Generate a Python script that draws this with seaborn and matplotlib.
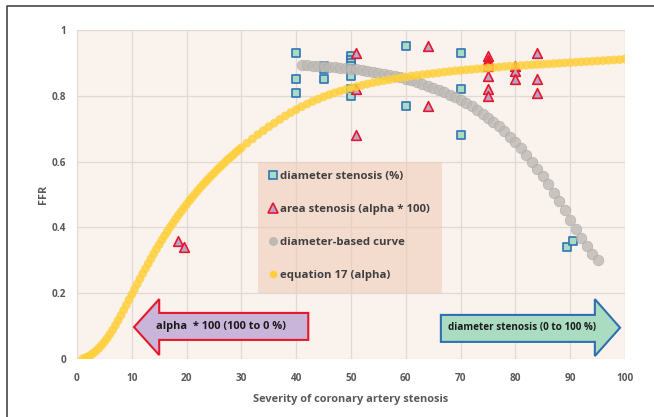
import matplotlib
matplotlib.use("Agg")
import matplotlib.pyplot as plt
from matplotlib.patches import Polygon, Rectangle
from matplotlib.lines import Line2D
import seaborn as sns
import pandas as pd

# --- data -----------------------------------------------------------------
diam_x = [40, 40, 40, 45, 45, 45, 50, 50, 50, 50, 50, 50, 50, 50,
          60, 60, 70, 70, 70, 89.5, 90.5]
diam_y = [0.93, 0.85, 0.81, 0.89, 0.88, 0.85, 0.92, 0.91, 0.90, 0.89,
          0.88, 0.86, 0.82, 0.80, 0.95, 0.77, 0.93, 0.82, 0.68, 0.34, 0.36]

area_x = [18.5, 19.6, 51, 51, 51, 64, 64, 75, 75, 75, 75, 75, 75, 75,
          80, 80, 80, 84, 84, 84]
area_y = [0.36, 0.34, 0.93, 0.82, 0.68, 0.95, 0.77, 0.92, 0.91, 0.90,
          0.89, 0.86, 0.82, 0.80, 0.89, 0.875, 0.85, 0.93, 0.85, 0.81]

curve_x = list(range(41, 96))
curve_y = [0.893, 0.893, 0.892, 0.891, 0.890, 0.889, 0.887, 0.886, 0.884,
           0.882, 0.880, 0.878, 0.876, 0.873, 0.870, 0.867, 0.864, 0.860,
           0.856, 0.852, 0.847, 0.842, 0.837, 0.831, 0.825, 0.818, 0.811,
           0.803, 0.795, 0.787, 0.778, 0.768, 0.757, 0.746, 0.734, 0.721,
           0.707, 0.692, 0.676, 0.659, 0.641, 0.621, 0.600, 0.578, 0.555,
           0.531, 0.506, 0.480, 0.452, 0.424, 0.395, 0.367, 0.343, 0.320,
           0.300]

eq_x = [1.0, 1.5, 2.0, 2.5, 3.0, 3.5, 4.0, 4.5, 5.0, 5.5, 6.0, 6.5, 7.0,
        7.5, 8.0, 8.5, 9.0, 9.5, 10.0, 10.5, 11.0, 11.5, 12.0, 12.5, 13.0,
        13.5, 14.0, 14.5, 15.0, 15.5, 16.0, 16.5, 17.0, 17.5, 18.0, 18.5,
        19.0, 19.5, 20.0, 20.5, 21.0, 21.5, 22.0, 22.5, 23.0, 23.5, 24.0,
        24.5, 25.0, 25.5, 26.0, 26.5, 27.0, 27.5, 28.0, 28.5, 29.0, 29.5,
        30, 31, 32, 33, 34, 35, 36, 37, 38, 39, 40, 41, 42, 43, 44, 45, 46,
        47, 48, 49, 50, 51, 52, 53, 54, 55, 56, 57, 58, 59, 60, 61, 62, 63,
        64, 65, 66, 67, 68, 69, 70, 71, 72, 73, 74, 75, 76, 77, 78, 79, 80,
        81, 82, 83, 84, 85, 86, 87, 88, 89, 90, 91, 92, 93, 94, 95, 96, 97,
        98, 99, 100]
eq_y = [0.000, 0.003, 0.007, 0.012, 0.018, 0.025, 0.033, 0.042, 0.052,
        0.063, 0.075, 0.088, 0.102, 0.117, 0.132, 0.148, 0.164, 0.180,
        0.196, 0.212, 0.228, 0.244, 0.260, 0.275, 0.290, 0.305, 0.320,
        0.334, 0.348, 0.362, 0.375, 0.388, 0.401, 0.413, 0.425, 0.437,
        0.448, 0.459, 0.470, 0.481, 0.491, 0.501, 0.511, 0.521, 0.530,
        0.539, 0.548, 0.557, 0.565, 0.574, 0.582, 0.590, 0.598, 0.606,
        0.613, 0.620, 0.628, 0.635, 0.642, 0.656, 0.669, 0.682, 0.694,
        0.706, 0.717, 0.728, 0.739, 0.749, 0.758, 0.767, 0.775, 0.783,
        0.790, 0.797, 0.803, 0.809, 0.814, 0.819, 0.824, 0.828, 0.832,
        0.836, 0.840, 0.843, 0.846, 0.849, 0.852, 0.855, 0.857, 0.860,
        0.862, 0.864, 0.866, 0.868, 0.870, 0.872, 0.874, 0.876, 0.877,
        0.879, 0.880, 0.882, 0.883, 0.885, 0.886, 0.887, 0.889, 0.890,
        0.891, 0.892, 0.893, 0.894, 0.895, 0.896, 0.897, 0.898, 0.899,
        0.900, 0.901, 0.902, 0.903, 0.904, 0.905, 0.906, 0.907, 0.908,
        0.909, 0.910, 0.912]

x_ticks = [0, 10, 20, 30, 40, 50, 60, 70, 80, 90, 100]
y_ticks = [0, 0.2, 0.4, 0.6, 0.8, 1.0]
y_tick_labels = ["0", "0.2", "0.4", "0.6", "0.8", "1"]

labels = ["diameter stenosis (%)", "area stenosis (alpha * 100)",
          "diameter-based curve", "equation 17 (alpha)"]

# --- style ----------------------------------------------------------------
sns.set_style("whitegrid", {"axes.facecolor": "#f9f2ed",
                            "grid.color": "#e2d9d2"})
plt.rcParams["font.family"] = ["Open Sans", "DejaVu Sans"]
TXT = "#595959"

fig = plt.figure(figsize=(6.54, 4.17), dpi=100)
ax = fig.add_axes([77 / 654, 1 - 359 / 417, 548 / 654, 329 / 417])

sq_face, sq_edge = "#a9dbc2", "#2f74b5"
tr_face, tr_edge = "#b8a6d0", "#e8162a"
grey_c, yel_c = "#bdb9b5", "#ffcf3a"

sns.scatterplot(data=pd.DataFrame({"x": diam_x, "y": diam_y}), x="x", y="y",
                marker="s", s=34, color=sq_face, edgecolor=sq_edge,
                linewidth=1.2, ax=ax, zorder=3, legend=False)
sns.scatterplot(data=pd.DataFrame({"x": area_x, "y": area_y}), x="x", y="y",
                marker="^", s=48, color=tr_face, edgecolor=tr_edge,
                linewidth=1.2, ax=ax, zorder=3, legend=False)
sns.scatterplot(data=pd.DataFrame({"x": curve_x, "y": curve_y}), x="x",
                y="y", marker="o", s=58, color=grey_c, edgecolor="#aeaaa6",
                linewidth=0.5, alpha=0.8, ax=ax, zorder=4, legend=False)
sns.scatterplot(data=pd.DataFrame({"x": eq_x, "y": eq_y}), x="x", y="y",
                marker="o", s=40, color=yel_c, edgecolor="none",
                alpha=0.82, ax=ax, zorder=5, legend=False)

ax.set_xlim(0, 100)
ax.set_ylim(0, 1)
ax.set_xticks(x_ticks)
ax.set_yticks(y_ticks)
ax.set_yticklabels(y_tick_labels)
ax.tick_params(length=0, labelsize=7.2, labelcolor=TXT)
ax.tick_params(axis="x", pad=10)
ax.tick_params(axis="y", pad=8)
for t in ax.get_xticklabels() + ax.get_yticklabels():
    t.set_fontweight("bold")
for s in ax.spines.values():
    s.set_visible(False)
ax.grid(True, color="#e2d9d2", linewidth=0.9)
ax.set_xlabel("Severity of coronary artery stenosis", fontsize=7.9,
              fontweight="bold", color=TXT, labelpad=7)
ax.set_ylabel("FFR", fontsize=7.8, fontweight="bold", color=TXT,
              labelpad=1.5)

# legend panel
ax.add_patch(Rectangle((33, 0.2), 33.6, 0.4, facecolor="#efcdb8",
                       alpha=0.6, edgecolor="none", zorder=1.5))
handles = [
    Line2D([], [], ls="none", marker="s", ms=6, mfc=sq_face, mec=sq_edge,
           mew=1.2),
    Line2D([], [], ls="none", marker="^", ms=6.5, mfc=tr_face, mec=tr_edge,
           mew=1.2),
    Line2D([], [], ls="none", marker="o", ms=6.5, mfc=grey_c, mec="none"),
    Line2D([], [], ls="none", marker="o", ms=5.5, mfc=yel_c, mec="none"),
]
leg = ax.legend(handles, labels, loc="upper left",
                bbox_to_anchor=(33.5, 0.595), bbox_transform=ax.transData,
                frameon=False, fontsize=8.2, labelspacing=1.92,
                handlelength=0.7, handletextpad=0.3, borderpad=0.2)
for t in leg.get_texts():
    t.set_color("#404040")
    t.set_fontweight("bold")
leg.set_zorder(7)

# direction arrows
left_arrow = [(10.4, 0.097), (15.0, 0.182), (15.0, 0.140), (42.2, 0.140),
              (42.2, 0.058), (15.0, 0.058), (15.0, 0.012)]
ax.add_patch(Polygon(left_arrow, closed=True, facecolor="#c9b4da",
                     edgecolor="#e8162a", linewidth=1.5, zorder=6))
ax.text(26.3, 0.099, "alpha  * 100 (100 to 0 %)", ha="center", va="center",
        fontsize=7.9, fontweight="bold", color="#1a1a1a", zorder=7)

right_arrow = [(66.4, 0.134), (94.5, 0.134), (94.5, 0.182), (99.1, 0.095),
               (94.5, 0.009), (94.5, 0.052), (66.4, 0.052)]
ax.add_patch(Polygon(right_arrow, closed=True, facecolor="#a9dcc0",
                     edgecolor="#2f6fb0", linewidth=1.5, zorder=6))
ax.text(67.7, 0.097, "diameter stenosis (0 to 100 %)", ha="left",
        va="center", fontsize=7.1, fontweight="bold", color="#1a1a1a",
        zorder=7)

# outer frame (top and left edges)
fig.add_artist(Line2D([7 / 654, 7 / 654, 1.0], [0.0, 1 - 6 / 417, 1 - 6 / 417],
                      transform=fig.transFigure, color="#555555",
                      linewidth=1.3))

fig.savefig("out.png", dpi=100)
